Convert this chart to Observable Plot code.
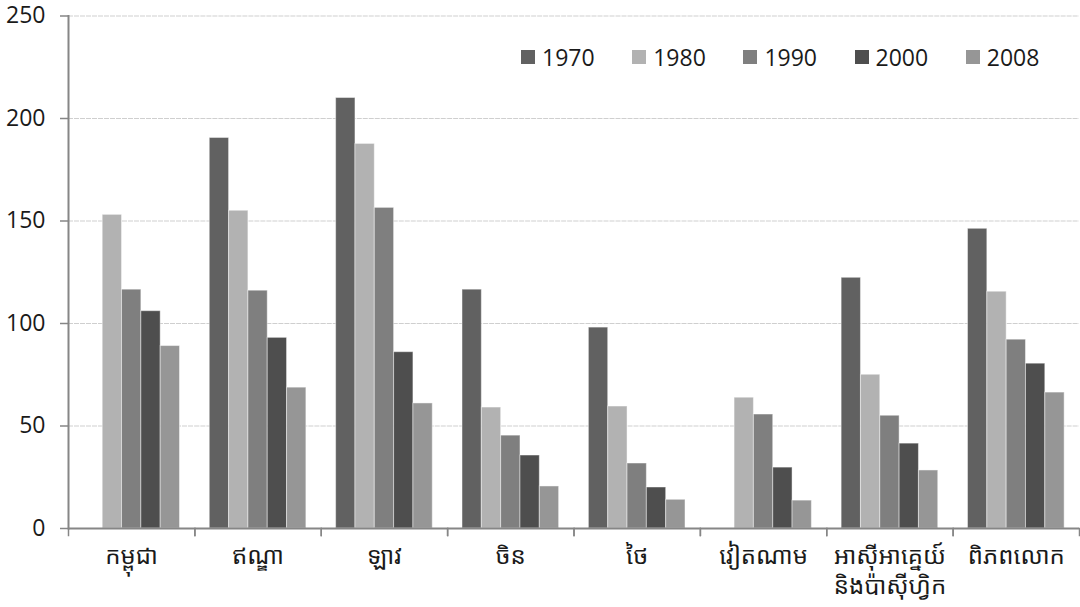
<!DOCTYPE html>
<html>
<head>
<meta charset="utf-8">
<script src="https://cdn.jsdelivr.net/npm/d3@7"></script>
<script src="https://cdn.jsdelivr.net/npm/@observablehq/plot@0.6"></script>
<style>
  html, body { margin: 0; padding: 0; background: #fff; }
  #wrap { position: relative; width: 1080px; height: 607px; font-family: "Open Sans", "Noto Sans Khmer", "Khmer OS", sans-serif; }
  #legend { position: absolute; top: 41px; left: 521px; display: flex; font-size: 23px; color: #1a1a1a; }
  #legend .item { display: flex; align-items: center; width: 111.2px; }
  #legend .sw { width: 14px; height: 14px; margin-right: 7px; }
</style>
</head>
<body>
<div id="wrap"><div id="legend"></div></div>
<script>
// ---- data ----
const categories = ["កម្ពុជា", "ឥណ្ឌា", "ឡាវ", "ចិន", "ថៃ", "វៀតណាម", "អាស៊ីអាគ្នេយ៍\nនិងប៉ាស៊ីហ្វិក", "ពិភពលោក"];
const years = ["1970", "1980", "1990", "2000", "2008"];
const v1970 = [null, 190.5, 210, 116.5, 98, null, 122.3, 146.2];
const v1980 = [153, 155, 187.6, 59, 59.5, 63.8, 75, 115.5];
const v1990 = [116.5, 116, 156.4, 45.3, 31.7, 55.6, 55, 92.1];
const v2000 = [106, 93, 86, 35.6, 20, 29.7, 41.4, 80.4];
const v2008 = [89, 68.7, 61, 20.5, 14, 13.6, 28.3, 66.3];
const yTicks = [0, 50, 100, 150, 200, 250];
const colors = ["#616161", "#b2b2b2", "#7f7f7f", "#4e4e4e", "#969696"];

// ---- build table ----
const series = [v1970, v1980, v1990, v2000, v2008];
const rows = [];
categories.forEach((c, i) => {
  years.forEach((yr, j) => {
    const v = series[j][i];
    if (v != null) rows.push({category: c, year: yr, value: v});
  });
});

const W = 1080, H = 607;
const mTop = 15.5, mBottom = 79, mLeft = 68, mRight = 1;
const innerH = H - mTop - mBottom;
const axisColor = "#868686";
const font = '"Open Sans", "Noto Sans Khmer", "Khmer OS", sans-serif';

const chart = Plot.plot({
  width: W,
  height: H,
  marginTop: mTop,
  marginBottom: mBottom,
  marginLeft: mLeft,
  marginRight: mRight,
  style: {fontFamily: font, fontSize: "23px", color: "#1a1a1a", background: "white", overflow: "visible"},
  fx: {domain: categories, padding: 0, round: false, label: null},
  x: {domain: years, paddingInner: 0, paddingOuter: 0.77, round: false, axis: null},
  y: {domain: [0, 250], label: null},
  color: {domain: years, range: colors},
  marks: [
    Plot.gridY(yTicks, {stroke: "#cfcfcf", strokeOpacity: 1, strokeWidth: 1, strokeDasharray: "5 1"}),
    Plot.barY(rows, {fx: "category", x: "year", y: "value", fill: "year", stroke: "white", strokeOpacity: 0.45, strokeWidth: 1}),
    Plot.ruleY([0], {stroke: axisColor, strokeWidth: 2}),
    Plot.frame({anchor: "left", fx: [categories[0]], stroke: axisColor, strokeWidth: 2}),
    Plot.frame({anchor: "left", insetTop: innerH, insetBottom: -7, stroke: axisColor, strokeWidth: 1.5}),
    Plot.frame({anchor: "right", insetTop: innerH, insetBottom: -7, stroke: axisColor, strokeWidth: 1.5}),
    Plot.axisY(yTicks, {tickSize: 8, tickPadding: 15, stroke: axisColor, strokeWidth: 1.5, label: null, fill: "#1a1a1a", fontSize: 23}),
    Plot.axisFx({anchor: "bottom", tickSize: 0, tickPadding: 15, label: null, fill: "#1a1a1a", fontSize: 24, lineHeight: 1.22})
  ]
});

const wrap = document.getElementById("wrap");
wrap.insertBefore(chart, wrap.firstChild);

const legend = document.getElementById("legend");
years.forEach((yr, j) => {
  const it = document.createElement("div");
  it.className = "item";
  const sw = document.createElement("span");
  sw.className = "sw";
  sw.style.background = colors[j];
  const t = document.createElement("span");
  t.textContent = yr;
  it.appendChild(sw);
  it.appendChild(t);
  legend.appendChild(it);
});
</script>
</body>
</html>
